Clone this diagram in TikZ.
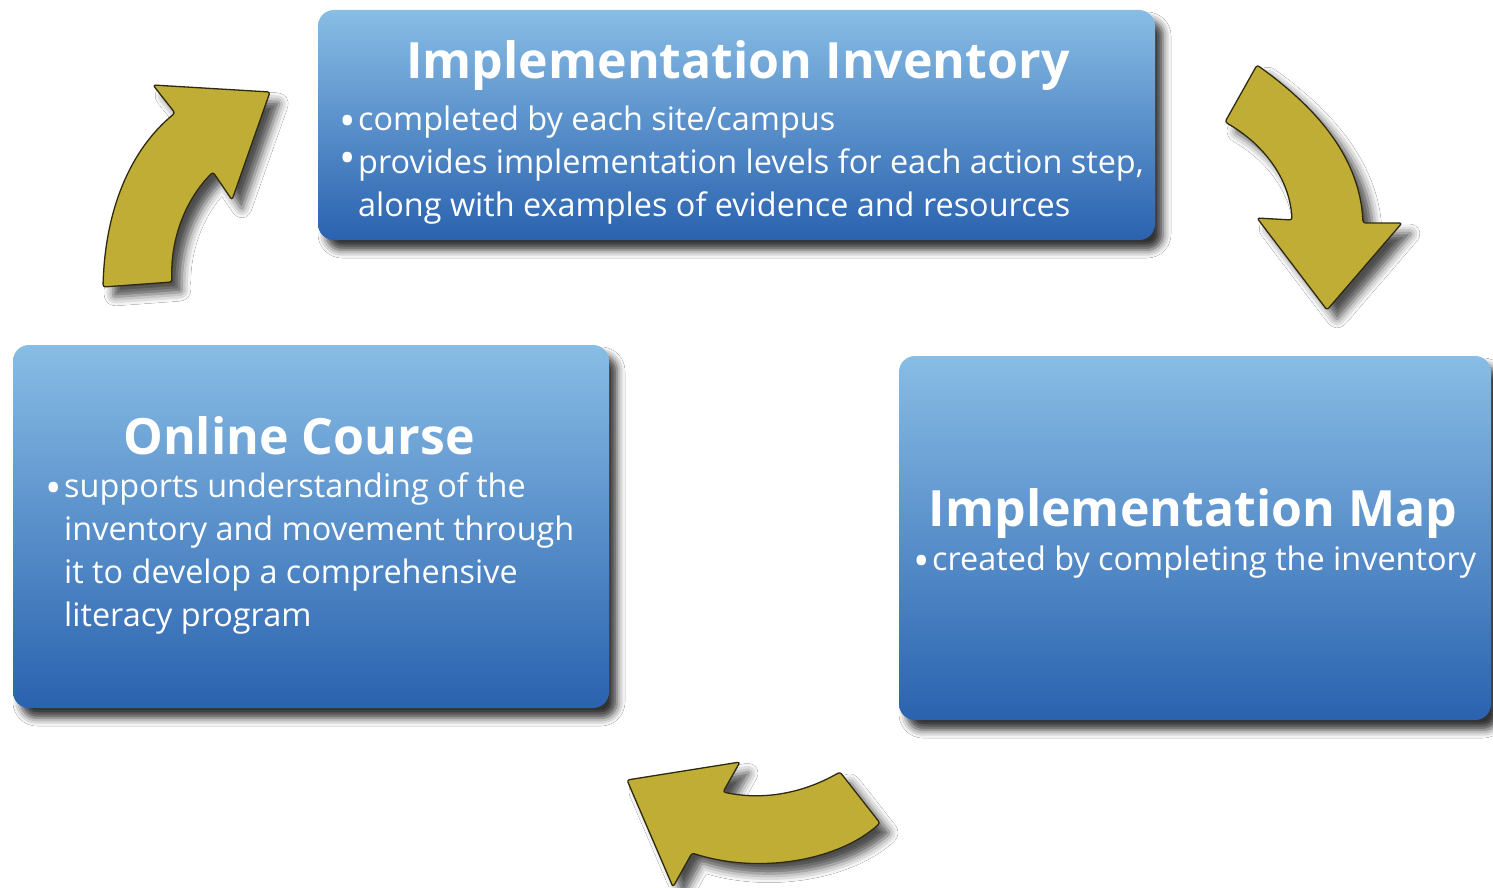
\documentclass[tikz,border=0pt]{standalone}
\usepackage{fontspec}
\setmainfont{Open Sans}
\usetikzlibrary{shadows.blur}
\definecolor{boxtop}{HTML}{88BDE5}
\definecolor{boxbot}{HTML}{2A62AF}
\definecolor{olive}{HTML}{C0AD35}
\definecolor{arrowline}{HTML}{2E2A10}
\newcommand{\bul}{\makebox[19pt][l]{\smash{\raisebox{-6pt}{\scalebox{1.35}{\textbullet}}}}}
\newcommand{\bulhi}{\makebox[19pt][l]{\smash{\raisebox{0pt}{\scalebox{1.35}{\textbullet}}}}}
\newcommand{\ind}{\hspace*{19pt}}
\tikzset{
  box/.style={rectangle, rounded corners=16pt, top color=boxtop, bottom color=boxbot, draw=none,
    blur shadow={shadow xshift=8pt, shadow yshift=-10pt, shadow blur radius=8pt, shadow opacity=80}},
  bigarrow/.style={fill=olive, draw=arrowline, line width=1.3pt, rounded corners=2.5pt, line join=round,
    blur shadow={shadow xshift=10pt, shadow yshift=-10pt, shadow blur radius=9pt, shadow opacity=70}},
  title/.style={text=white, font=\fontsize{50}{58}\selectfont\bfseries, inner sep=0pt},
  body/.style={text=white, font=\fontsize{32.4}{43}\selectfont, inner sep=0pt, anchor=base west, align=left},
}
\begin{document}
\begin{tikzpicture}[x=1pt,y=-1pt]
\useasboundingbox (0,0) rectangle (1493,888);
\fill[white] (0,0) rectangle (1493,888);
% boxes
\node[box, minimum width=837pt, minimum height=230pt] (inv) at (736.5,125) {};
\node[box, minimum width=596pt, minimum height=363pt] (oc) at (311,526.5) {};
\node[box, minimum width=592pt, minimum height=364pt] (map) at (1195,538) {};
% arrows
\path[bigarrow] (103,287) .. controls (105,210) and (130,150) .. (175,113) -- (153,85) -- (270,92) -- (232,200) -- (213,172) .. controls (185,200) and (170,240) .. (172,282) -- cycle;
\path[bigarrow] (1257,65) .. controls (1320,110) and (1360,160) .. (1363,223) -- (1402,223) -- (1327,310) -- (1257,218) -- (1292,220) .. controls (1290,180) and (1265,145) .. (1225,122) -- cycle;
\path[bigarrow] (840,772) .. controls (800,795) and (760,800) .. (723,792) -- (740,762) -- (627,780) -- (673,887) -- (692,853) .. controls (760,875) and (840,860) .. (880,823) -- cycle;
% top box text
\node[title, anchor=base] (invt) at (738,79) {Implementation Inventory};
\node[body] (invb) at (339,216) {\bul completed by each site/campus\\
  \bulhi provides implementation levels for each action step,\\
  \ind along with examples of evidence and resources};
% left box text
\node[title, anchor=base] (oct) at (299,454) {Online Course};
\node[body] (ocb) at (45,626) {\bul supports understanding of the\\
  \ind inventory and movement through\\
  \ind it to develop a comprehensive\\
  \ind literacy program};
% right box text
\node[title, anchor=base] (mapt) at (1193,526) {Implementation Map};
\node[body] (mapb) at (913,570) {\bul created by completing the inventory};
\end{tikzpicture}
\end{document}
